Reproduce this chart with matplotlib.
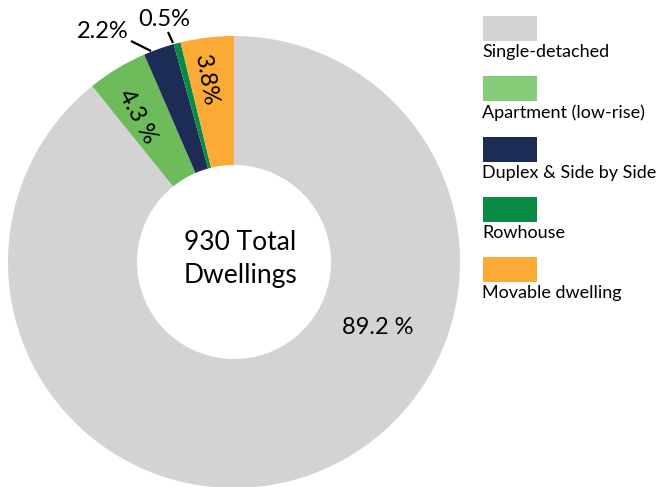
import numpy as np
import matplotlib.pyplot as plt
from matplotlib.patches import Rectangle

plt.rcParams['font.family'] = ['Lato', 'DejaVu Sans']

labels = ["Single-detached", "Apartment (low-rise)", "Duplex & Side by Side",
          "Rowhouse", "Movable dwelling"]
shares = [89.2, 4.3, 2.2, 0.5, 3.8]
pie_colors = ["#d3d3d3", "#6dbb5b", "#1d2c54", "#078b45", "#fbab35"]
key_colors = ["#d3d3d3", "#86cb78", "#1d2c54", "#078b45", "#fbab35"]
total = 930

W, H = 656, 487
fig = plt.figure(figsize=(W / 100, H / 100), dpi=100)
ax = fig.add_axes([0, 0, 1, 1])

cx, cy = 234, H - 262
R, r_in = 226, 97
ax.pie(shares, colors=pie_colors, startangle=90, counterclock=False,
       center=(cx, cy), radius=R,
       wedgeprops=dict(width=R - r_in, linewidth=0))
ax.set_xlim(0, W)
ax.set_ylim(0, H)
ax.set_aspect('equal')
ax.axis('off')

# slice mid-angles (degrees, counted anticlockwise from 3 o'clock)
ends = 90 - np.cumsum(shares) * 3.6
starts = ends + np.array(shares) * 3.6
mids = (starts + ends) / 2


def polar(ang, rad):
    a = np.radians(ang)
    return cx + rad * np.cos(a), cy + rad * np.sin(a)


# big slice label
x, y = polar(-24.6, 158)
ax.text(x, y, f"{shares[0]} %", fontsize=17, ha='center', va='center')

# labels inside the thin slices, running along the radius
for i, shift, rad, rot in [(1, 2.4, 175, -3), (4, 1.9, 184, 3)]:
    x, y = polar(mids[i] + shift, rad)
    txt = f"{shares[i]} %" if i == 1 else f"{shares[i]}%"
    ax.text(x, y, txt, fontsize=17, ha='center', va='center',
            rotation=mids[i] - 180 + rot, rotation_mode='anchor')

# outside labels with leader lines
for i, (tx, ty), (x0, y0), (x1, y1) in [
        (2, (103, 31), (131, 41), (151, 51)),
        (3, (164, 20), (168, 32), (173, 43))]:
    ax.plot([x0, x1], [H - y0, H - y1], color='black', lw=1.6,
            solid_capstyle='butt')
    ax.text(tx, H - ty, f"{shares[i]}%", fontsize=17,
            ha='center', va='center')

ax.text(cx + 6, H - 243, f"{total} Total", fontsize=19,
        ha='center', va='center')
ax.text(cx + 6, H - 275, "Dwellings", fontsize=19,
        ha='center', va='center')

# legend: swatch above each label
for k, (lab, col) in enumerate(zip(labels, key_colors)):
    top = 16 + k * 60.3
    ax.add_patch(Rectangle((483, H - top - 25), 54, 25, color=col, lw=0))
    ax.text(482, H - top - 36, lab, fontsize=13, ha='left', va='center')

fig.savefig("out.png", dpi=100)
